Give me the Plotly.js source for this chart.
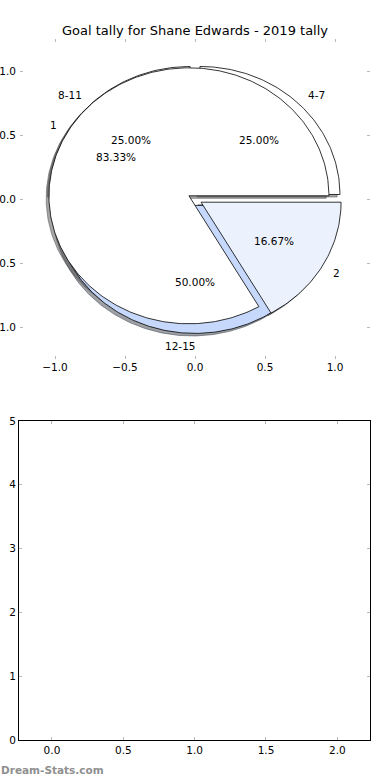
<!DOCTYPE html>
<html>
<head>
<meta charset="utf-8">
<script src="https://cdn.plot.ly/plotly-3.0.1.min.js"></script>
<style>html,body{margin:0;padding:0;background:#fff;}#chart{width:390px;height:780px;}</style>
</head>
<body>
<div id="chart"></div>
<script>
// ---- data ----
const titleText = 'Goal tally for Shane Edwards - 2019 tally';
const outerLabels = ['4-7', '8-11', '12-15'];
const outerValues = [1, 1, 2];            // 25%, 25%, 50%
const outerColors = ['#ffffff', '#ffffff', '#c6d9fd'];
const outerExplode = [0.05, 0.05, 0.05];
const innerLabels = ['1', '2'];
const innerValues = [5, 1];               // 83.33%, 16.67%
const innerColors = ['#ffffff', '#ebf2fe'];
const innerExplode = [0.05, 0.05];
const pieTicks = [-1.0, -0.5, 0.0, 0.5, 1.0];
const barTicksX = [0.0, 0.5, 1.0, 1.5, 2.0];
const barTicksY = [0, 1, 2, 3, 4, 5];
const watermark = 'Dream-Stats.com';

// ---- build wedges the way matplotlib's pie does (start 0°, counter-clockwise) ----
const FONT = 'DejaVu Sans, sans-serif';
const rad = d => d * Math.PI / 180;
function wedgeXY(cx, cy, t1, t2) {
  const xs = [cx], ys = [cy];
  const n = Math.max(2, Math.ceil((t2 - t1) / 1));
  for (let i = 0; i <= n; i++) {
    const t = rad(t1 + (t2 - t1) * i / n);
    xs.push(cx + Math.cos(t)); ys.push(cy + Math.sin(t));
  }
  xs.push(cx); ys.push(cy);
  return {xs, ys};
}
function shade(hex) {
  const r = parseInt(hex.slice(1, 3), 16), g = parseInt(hex.slice(3, 5), 16), b = parseInt(hex.slice(5, 7), 16);
  return 'rgba(' + Math.round(r * 0.3) + ',' + Math.round(g * 0.3) + ',' + Math.round(b * 0.3) + ',0.5)';
}
function buildPie(labels, values, colors, explode) {
  const total = values.reduce((a, b) => a + b, 0);
  let cum = 0;
  const out = [];
  values.forEach((v, i) => {
    const t1 = 360 * cum / total, t2 = 360 * (cum + v) / total;
    cum += v;
    const mid = rad((t1 + t2) / 2);
    const cx = explode[i] * Math.cos(mid), cy = explode[i] * Math.sin(mid);
    out.push({t1, t2, mid, cx, cy, color: colors[i], label: labels[i], pct: (100 * v / total).toFixed(2) + '%'});
  });
  return out;
}
const outer = buildPie(outerLabels, outerValues, outerColors, outerExplode);
const inner = buildPie(innerLabels, innerValues, innerColors, innerExplode);
const all = outer.concat(inner);

const traces = [];
// shadows first (lower zorder), offset -0.02, -0.02
all.forEach(w => {
  const p = wedgeXY(w.cx - 0.02, w.cy - 0.02, w.t1, w.t2);
  traces.push({type: 'scatter', mode: 'lines', x: p.xs, y: p.ys, fill: 'toself',
    fillcolor: shade(w.color), line: {color: shade(w.color), width: 1}, hoverinfo: 'skip', showlegend: false,
    xaxis: 'x', yaxis: 'y'});
});
all.forEach(w => {
  const p = wedgeXY(w.cx, w.cy, w.t1, w.t2);
  traces.push({type: 'scatter', mode: 'lines', x: p.xs, y: p.ys, fill: 'toself',
    fillcolor: w.color, line: {color: '#000000', width: 0.8}, hoverinfo: 'skip', showlegend: false,
    xaxis: 'x', yaxis: 'y'});
});
// empty lower axes
traces.push({type: 'scatter', mode: 'markers', x: [], y: [], xaxis: 'x2', yaxis: 'y2', showlegend: false, hoverinfo: 'skip'});

const annotations = [];
all.forEach(w => {
  const lx = w.cx + 1.1 * Math.cos(w.mid), ly = w.cy + 1.1 * Math.sin(w.mid);
  const isLeft = (1.1 * Math.cos(w.mid)) > 0;
  annotations.push({x: lx, y: ly, xref: 'x', yref: 'y', text: w.label, showarrow: false,
    xanchor: isLeft ? 'left' : 'right', yanchor: 'middle', borderpad: 0, xshift: isLeft ? -2 : 2,
    font: {family: FONT, size: 10.5, color: '#000'}});
  const px = w.cx + 0.6 * Math.cos(w.mid), py = w.cy + 0.6 * Math.sin(w.mid);
  annotations.push({x: px, y: py, xref: 'x', yref: 'y', text: w.pct, showarrow: false, borderpad: 0,
    xanchor: 'center', yanchor: 'middle', font: {family: FONT, size: 10.5, color: '#000'}});
});
annotations.push({x: 0, y: 1 - 770 / 780, xref: 'paper', yref: 'paper', text: '<b>' + watermark + '</b>',
  showarrow: false, xanchor: 'left', yanchor: 'middle', borderpad: 0, font: {family: FONT, size: 10.5, color: '#8f8f8f'}});

const tickCommon = {ticks: 'inside', ticklen: 3, tickcolor: '#b8b8b8', tickwidth: 1, showgrid: false, zeroline: false,
  tickfont: {family: FONT, size: 10.5, color: '#000'}};

const layout = {
  width: 390, height: 780, margin: {l: 0, r: 0, t: 0, b: 0},
  paper_bgcolor: '#ffffff', plot_bgcolor: 'rgba(0,0,0,0)', showlegend: false,
  title: {text: titleText, x: 0.5, xanchor: 'center', y: 1 - 30 / 780, yanchor: 'middle', yref: 'paper',
    font: {family: FONT, size: 13, color: '#000'}},
  xaxis: Object.assign({}, tickCommon, {domain: [20 / 390, 370 / 390], range: [-1.25, 1.25], tickvals: pieTicks,
    tickformat: '.1f', showline: false, mirror: 'allticks', anchor: 'y', fixedrange: true}),
  yaxis: Object.assign({}, tickCommon, {domain: [1 - 359 / 780, 1 - 39 / 780], range: [-1.25, 1.25], tickvals: pieTicks,
    tickformat: '.1f', showline: false, mirror: 'allticks', anchor: 'x', fixedrange: true, ticklabelstandoff: 3}),
  xaxis2: Object.assign({}, tickCommon, {domain: [19 / 390, 370 / 390], range: [-0.231, 2.229], tickvals: barTicksX,
    tickformat: '.1f', showline: true, linecolor: '#000', linewidth: 1, mirror: 'allticks', anchor: 'y2', fixedrange: true}),
  yaxis2: Object.assign({}, tickCommon, {domain: [1 - 740 / 780, 1 - 421 / 780], range: [0, 5], tickvals: barTicksY,
    tickformat: 'd', showline: true, linecolor: '#000', linewidth: 1, mirror: 'allticks', anchor: 'x2', fixedrange: true}),
  annotations: annotations
};
Plotly.newPlot('chart', traces, layout, {displayModeBar: false, staticPlot: true});
</script>
</body>
</html>
